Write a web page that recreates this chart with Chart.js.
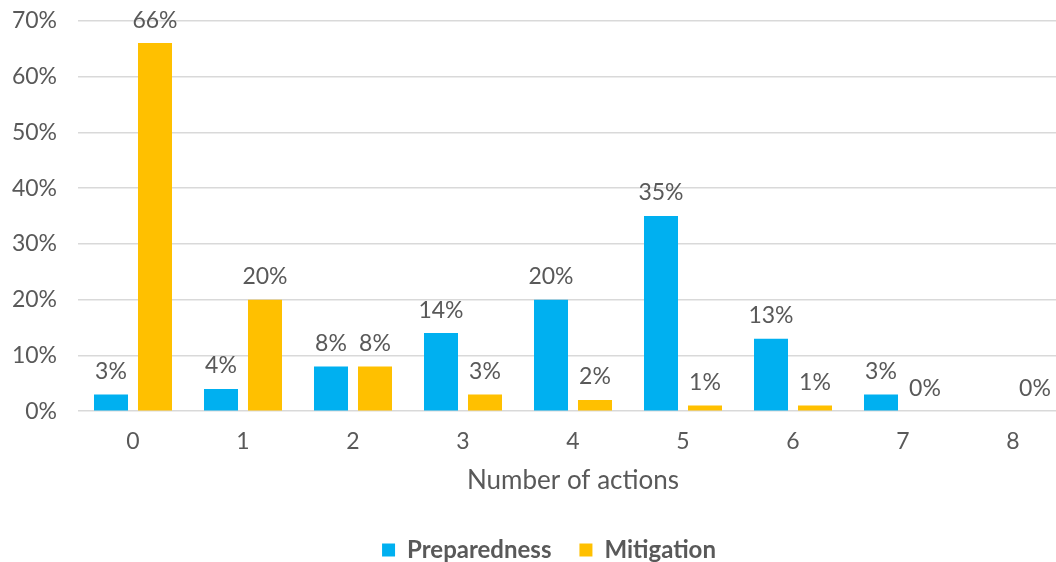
<!DOCTYPE html>
<html>
<head>
<meta charset="utf-8">
<script src="https://cdn.jsdelivr.net/npm/chart.js@4/dist/chart.umd.min.js"></script>
<style>
  html, body { margin: 0; padding: 0; background: #fff; overflow: hidden; }
  #wrap { width: 1100px; height: 586px; position: relative; margin-top: -14px; }
</style>
</head>
<body>
<div id="wrap"><canvas id="c"></canvas></div>
<script>
const categories = ['0', '1', '2', '3', '4', '5', '6', '7', '8'];
const preparedness = [3, 4, 8, 14, 20, 35, 13, 3, null];
const mitigation = [66, 20, 8, 3, 2, 1, 1, 0, 0];
const yTicks = [0, 10, 20, 30, 40, 50, 60, 70];

const textColor = '#595959';
const fontFamily = 'Lato, "Open Sans", sans-serif';

// Value labels drawn just above each bar
const valueLabels = {
  id: 'valueLabels',
  afterDatasetsDraw(chart) {
    const ctx = chart.ctx;
    ctx.save();
    ctx.font = '23px ' + fontFamily;
    ctx.fillStyle = textColor;
    ctx.textAlign = 'center';
    ctx.textBaseline = 'middle';
    chart.data.datasets.forEach((ds, i) => {
      const meta = chart.getDatasetMeta(i);
      meta.data.forEach((bar, j) => {
        const v = ds.data[j];
        if (v === null || v === undefined) return;
        ctx.fillText(v + '%', bar.x, bar.y - 23);
      });
    });
    ctx.restore();
  }
};

// Centre the legend on the full canvas width rather than the padded area
const legendCentre = {
  id: 'legendCentre',
  afterLayout(chart) {
    if (chart.legend) { chart.legend.right += 30; chart.legend.width += 30; }
  }
};

new Chart(document.getElementById('c'), {
  type: 'bar',
  data: {
    labels: categories,
    datasets: [
      { label: 'Preparedness', data: preparedness, backgroundColor: '#00B0F0',
        categoryPercentage: 0.8, barPercentage: 0.773 },
      { label: 'Mitigation', data: mitigation, backgroundColor: '#FFC000',
        categoryPercentage: 0.8, barPercentage: 0.773 }
    ]
  },
  options: {
    responsive: true,
    maintainAspectRatio: false,
    animation: false,
    layout: { padding: { top: 0, right: 32, left: 0, bottom: 0 } },
    plugins: {
      legend: {
        position: 'bottom',
        labels: {
          color: textColor,
          font: { family: fontFamily, size: 24, weight: 'bold' },
          boxWidth: 13, boxHeight: 13,
          padding: 28
        }
      },
      tooltip: { enabled: false }
    },
    scales: {
      x: {
        grid: { display: false },
        border: { display: false },
        ticks: { color: textColor, font: { family: fontFamily, size: 23 }, padding: 9 },
        title: { display: true, text: 'Number of actions', color: textColor,
                 font: { family: fontFamily, size: 26 }, padding: { top: 0, bottom: 14 } }
      },
      y: {
        min: 0, max: 70,
        afterBuildTicks(axis) { axis.ticks = yTicks.map(v => ({ value: v })); },
        afterFit(axis) { axis.width = 78; },
        grid: { color: '#D9D9D9', lineWidth: 1.5, drawTicks: false },
        border: { display: false },
        ticks: { color: textColor, font: { family: fontFamily, size: 23 }, padding: 21,
                 callback: v => v + '%' }
      }
    }
  },
  plugins: [valueLabels, legendCentre]
});
</script>
</body>
</html>
